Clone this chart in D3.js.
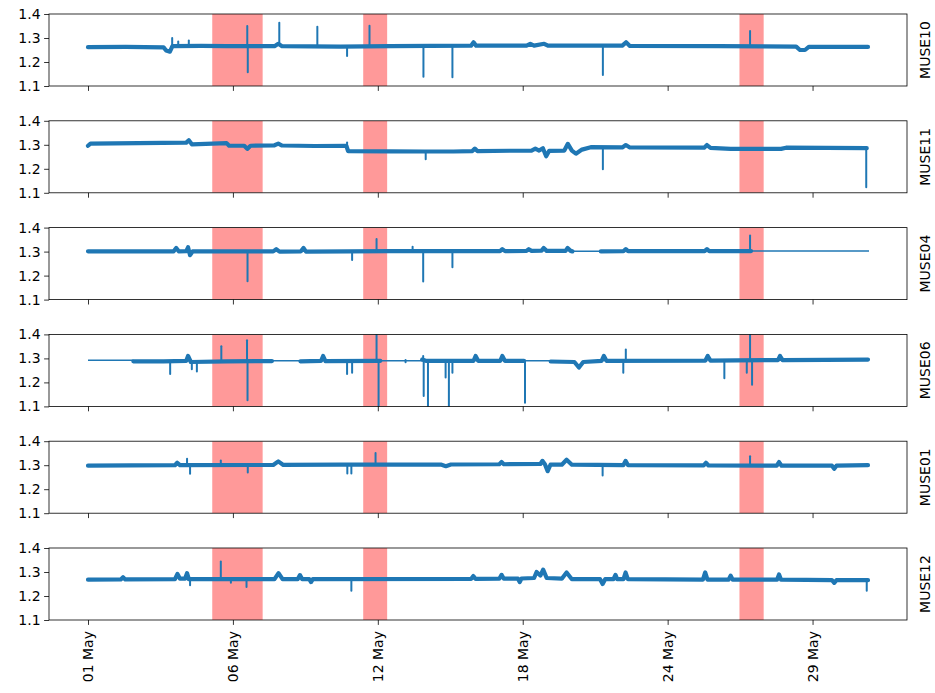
<!DOCTYPE html>
<html>
<head>
<meta charset="utf-8">
<script src="https://cdn.jsdelivr.net/npm/d3@7/dist/d3.min.js"></script>
<style>
  body { margin: 0; background: #fff; }
  svg { font-family: "DejaVu Sans", sans-serif; }
</style>
</head>
<body>
<svg id="chart"></svg>
<script>
// days counted from 01 May 00:00
const stations = ['MUSE10', 'MUSE11', 'MUSE04', 'MUSE06', 'MUSE01', 'MUSE12'];
const tickDays = [0, 5.75, 11.5, 17.25, 23, 28.75];
const tickLabels = ['01 May', '06 May', '12 May', '18 May', '24 May', '29 May'];
const yTicks = [1.1, 1.2, 1.3, 1.4];
const eventSpans = [[4.93, 6.93], [10.92, 11.87], [25.85, 26.81]];

const muse10Level = [[0, 1.262], [1.5, 1.263], [3.0, 1.261], [3.1, 1.248], [3.25, 1.243], [3.35, 1.266],
  [4.5, 1.267], [5.5, 1.266], [7.4, 1.266], [7.55, 1.276], [7.7, 1.266], [10.0, 1.264], [12.0, 1.266],
  [15.2, 1.268], [15.3, 1.282], [15.4, 1.268], [17.4, 1.268], [17.55, 1.276], [17.7, 1.268], [18.1, 1.276],
  [18.25, 1.268], [21.2, 1.268], [21.35, 1.282], [21.5, 1.267], [25, 1.266], [28.1, 1.264], [28.25, 1.25],
  [28.45, 1.25], [28.6, 1.263], [30.95, 1.263]];
const muse10Gaps = [];
const muse10Spikes = [[3.34, 1.30], [3.58, 1.285], [4.0, 1.29], [6.32, 1.35], [6.34, 1.157], [7.59, 1.364],
  [9.1, 1.347], [10.28, 1.225], [11.17, 1.351], [13.31, 1.139], [14.46, 1.136], [20.43, 1.146], [26.27, 1.329]];

const muse11Level = [[0, 1.296], [0.1, 1.305], [2, 1.307], [3.9, 1.309], [4.0, 1.319], [4.12, 1.302],
  [5.5, 1.307], [5.6, 1.296], [6.2, 1.296], [6.32, 1.283], [6.45, 1.296], [7.4, 1.298], [7.55, 1.305],
  [7.7, 1.297], [9, 1.295], [10.25, 1.296], [10.32, 1.274], [12, 1.273], [13.35, 1.272], [14.5, 1.272],
  [15.25, 1.274], [15.35, 1.284], [15.45, 1.274], [17.6, 1.276], [17.75, 1.284], [17.9, 1.276],
  [18.05, 1.286], [18.18, 1.252], [18.3, 1.275], [18.9, 1.276], [19.04, 1.304], [19.2, 1.276],
  [19.36, 1.263], [19.6, 1.28], [19.95, 1.29], [21.2, 1.289], [21.34, 1.299], [21.5, 1.289],
  [24.45, 1.288], [24.56, 1.299], [24.7, 1.287], [25.5, 1.283], [27.5, 1.283], [27.7, 1.288], [30.9, 1.286]];
const muse11Gaps = [];
const muse11Spikes = [[10.28, 1.31], [13.4, 1.24], [20.43, 1.198], [30.88, 1.123]];

const muse04Level = [[0, 1.301], [3.4, 1.301], [3.5, 1.315], [3.6, 1.301], [3.9, 1.302], [3.97, 1.318],
  [4.05, 1.285], [4.15, 1.301], [7.35, 1.301], [7.47, 1.31], [7.6, 1.300], [8.45, 1.301], [8.55, 1.315],
  [8.65, 1.300], [12, 1.302], [16.35, 1.302], [16.44, 1.31], [16.55, 1.302], [17.4, 1.303], [17.49, 1.31],
  [17.6, 1.303], [18.0, 1.304], [18.08, 1.315], [18.2, 1.303], [18.95, 1.303], [19.03, 1.315],
  [19.15, 1.303], [19.22, 1.301], [19.22, null], [20.35, 1.301], [21.25, 1.302], [21.34, 1.31],
  [21.43, 1.302], [24.47, 1.302], [24.56, 1.31], [24.65, 1.302], [26.31, 1.302]];
const muse04Gaps = [[19.22, 20.35, 1.301], [26.31, 30.99, 1.302]];
const muse04Spikes = [[6.33, 1.176], [10.48, 1.265], [11.45, 1.353], [12.88, 1.32], [13.3, 1.175],
  [14.46, 1.235], [26.27, 1.367]];

const muse06Level = [[1.8, 1.288], [3.0, 1.288], [3.9, 1.29], [3.97, 1.31], [4.08, 1.285], [5.5, 1.288],
  [7.3, 1.289], [7.3, null], [8.43, 1.288], [9.25, 1.29], [9.33, 1.31], [9.42, 1.289], [11.6, 1.29],
  [11.6, null], [13.26, 1.295], [13.4, 1.29], [15.3, 1.29], [15.38, 1.31], [15.48, 1.29], [16.36, 1.29],
  [16.44, 1.31], [16.54, 1.29], [17.3, 1.29], [17.3, null], [18.36, 1.287], [19.3, 1.285], [19.48, 1.262],
  [19.65, 1.285], [20.38, 1.29], [20.47, 1.31], [20.57, 1.29], [24.5, 1.291], [24.59, 1.31], [24.7, 1.291],
  [27.38, 1.293], [27.46, 1.31], [27.56, 1.293], [30.95, 1.295]];
const muse06Gaps = [[0, 1.8, 1.292], [7.3, 8.43, 1.29], [11.6, 13.26, 1.29], [17.3, 18.36, 1.29]];
const muse06Spikes = [[3.26, 1.235], [4.12, 1.255], [4.32, 1.245], [5.29, 1.351], [6.31, 1.376],
  [6.33, 1.126], [10.28, 1.235], [10.48, 1.24], [11.45, 1.40], [11.53, 1.10], [12.6, 1.284], [13.3, 1.31],
  [13.32, 1.143], [13.49, 1.10], [14.19, 1.22], [14.32, 1.10], [14.46, 1.24], [17.34, 1.115], [21.24, 1.24],
  [21.34, 1.337], [25.25, 1.217], [26.14, 1.24], [26.27, 1.40], [26.35, 1.19]];

const muse01Level = [[0, 1.298], [3.45, 1.30], [3.54, 1.31], [3.65, 1.30], [7.35, 1.301], [7.55, 1.316],
  [7.75, 1.301], [10, 1.302], [14, 1.303], [14.2, 1.296], [14.4, 1.303], [16.32, 1.304], [16.41, 1.313],
  [16.5, 1.304], [17.95, 1.305], [18.03, 1.318], [18.13, 1.304], [18.24, 1.275], [18.35, 1.302],
  [18.8, 1.302], [18.99, 1.323], [19.2, 1.302], [21.24, 1.30], [21.33, 1.318], [21.43, 1.30],
  [24.43, 1.299], [24.52, 1.31], [24.62, 1.299], [27.33, 1.298], [27.42, 1.313], [27.52, 1.298],
  [29.52, 1.298], [29.61, 1.285], [29.7, 1.298], [30.95, 1.30]];
const muse01Gaps = [];
const muse01Spikes = [[3.93, 1.327], [4.05, 1.264], [5.27, 1.32], [6.34, 1.27], [10.29, 1.265],
  [10.45, 1.265], [11.41, 1.351], [20.42, 1.257], [26.27, 1.337]];

const muse12Level = [[0, 1.268], [1.3, 1.269], [1.39, 1.278], [1.48, 1.269], [3.45, 1.27], [3.55, 1.292],
  [3.65, 1.272], [3.85, 1.272], [3.93, 1.295], [4.0, 1.27], [7.4, 1.27], [7.56, 1.295], [7.72, 1.27],
  [8.32, 1.27], [8.41, 1.287], [8.5, 1.27], [8.78, 1.27], [8.85, 1.258], [8.92, 1.27], [15.2, 1.271],
  [15.29, 1.283], [15.38, 1.271], [16.32, 1.272], [16.41, 1.288], [16.5, 1.272], [17.06, 1.272],
  [17.13, 1.258], [17.2, 1.273], [17.7, 1.275], [17.8, 1.30], [17.95, 1.285], [18.06, 1.31], [18.2, 1.275],
  [18.8, 1.272], [18.99, 1.298], [19.2, 1.27], [20.32, 1.27], [20.42, 1.25], [20.52, 1.27], [20.85, 1.27],
  [20.93, 1.288], [21.0, 1.27], [21.25, 1.27], [21.33, 1.298], [21.42, 1.27], [24.4, 1.268],
  [24.49, 1.298], [24.58, 1.268], [25.42, 1.268], [25.5, 1.285], [25.58, 1.268], [27.34, 1.268],
  [27.42, 1.29], [27.5, 1.268], [29.52, 1.266], [29.61, 1.255], [29.7, 1.266], [30.95, 1.266]];
const muse12Gaps = [];
const muse12Spikes = [[4.05, 1.245], [5.27, 1.344], [5.67, 1.255], [6.29, 1.237], [10.45, 1.222],
  [30.9, 1.222]];

const levels = [muse10Level, muse11Level, muse04Level, muse06Level, muse01Level, muse12Level];
const gaps = [muse10Gaps, muse11Gaps, muse04Gaps, muse06Gaps, muse01Gaps, muse12Gaps];
const spikes = [muse10Spikes, muse11Spikes, muse04Spikes, muse06Spikes, muse01Spikes, muse12Spikes];

const W = 935, H = 693;
const left = 49, right = 907;
const top0 = 14, step = 106.8, ph = 72;
const blue = '#1f77b4';

const start = Date.UTC(2021, 4, 1);
const toDate = d => new Date(start + d * 864e5);

const svg = d3.select('#chart')
  .attr('width', W)
  .attr('height', H);

// matplotlib style 5% margins around the data
const xmax = 30.95;
const x = d3.scaleUtc()
  .domain([toDate(-0.05 * xmax), toDate(1.05 * xmax)])
  .range([left, right]);

const y = d3.scaleLinear()
  .domain([1.1, 1.4])
  .range([ph, 0]);

svg.append('defs').append('clipPath')
  .attr('id', 'clip')
  .append('rect')
  .attr('x', left).attr('y', 0)
  .attr('width', right - left).attr('height', ph);

const line = d3.line()
  .defined(d => d[1] !== null)
  .x(d => x(toDate(d[0])))
  .y(d => y(d[1]));

stations.forEach((name, i) => {
  const g = svg.append('g')
    .attr('transform', `translate(0,${top0 + i * step})`);

  const plot = g.append('g').attr('clip-path', 'url(#clip)');

  // event spans
  plot.selectAll('rect.span')
    .data(eventSpans)
    .join('rect')
    .attr('class', 'span')
    .attr('x', d => x(toDate(d[0])))
    .attr('width', d => x(toDate(d[1])) - x(toDate(d[0])))
    .attr('y', 0)
    .attr('height', ph)
    .attr('fill', 'red')
    .attr('fill-opacity', 0.4);

  // gaps with no data: straight thin line
  plot.selectAll('line.gap')
    .data(gaps[i])
    .join('line')
    .attr('class', 'gap')
    .attr('x1', d => x(toDate(d[0])))
    .attr('x2', d => x(toDate(d[1])))
    .attr('y1', d => y(d[2]))
    .attr('y2', d => y(d[2]))
    .attr('stroke', blue)
    .attr('stroke-width', 1.5);

  // noisy band
  plot.append('path')
    .datum(levels[i])
    .attr('fill', 'none')
    .attr('stroke', blue)
    .attr('stroke-width', 4.2)
    .attr('stroke-linejoin', 'round')
    .attr('stroke-linecap', 'round')
    .attr('d', line);

  // spikes from the band
  const pts = levels[i].filter(d => d[1] !== null);
  const bis = d3.bisector(d => d[0]).left;
  const baseAt = day => {
    const j = Math.max(1, Math.min(pts.length - 1, bis(pts, day)));
    const a = pts[j - 1], b = pts[j];
    const t = b[0] === a[0] ? 0 : (day - a[0]) / (b[0] - a[0]);
    return a[1] + Math.max(0, Math.min(1, t)) * (b[1] - a[1]);
  };
  plot.selectAll('line.spike')
    .data(spikes[i])
    .join('line')
    .attr('class', 'spike')
    .attr('x1', d => x(toDate(d[0])))
    .attr('x2', d => x(toDate(d[0])))
    .attr('y1', d => y(baseAt(d[0])))
    .attr('y2', d => y(d[1]))
    .attr('stroke', blue)
    .attr('stroke-width', 2)
    .attr('stroke-linecap', 'round');

  // y axis
  const ay = g.append('g')
    .attr('transform', `translate(${left},0)`)
    .call(d3.axisLeft(y).tickValues(yTicks).tickFormat(d3.format('.1f')).tickSize(4.9).tickPadding(3.5).tickSizeOuter(0));
  ay.select('.domain').remove();
  ay.selectAll('line').attr('stroke', '#000').attr('stroke-width', 0.8);
  ay.selectAll('text').attr('font-size', 14).attr('fill', '#000')
    .attr('font-family', '"DejaVu Sans", sans-serif');

  // x axis, labels only on the bottom panel
  const last = i === stations.length - 1;
  const ax = g.append('g')
    .attr('transform', `translate(0,${ph})`)
    .call(d3.axisBottom(x)
      .tickValues(tickDays.map(toDate))
      .tickFormat((d, k) => last ? tickLabels[k] : '')
      .tickSize(4.9)
      .tickSizeOuter(0));
  ax.select('.domain').remove();
  ax.selectAll('line').attr('stroke', '#000').attr('stroke-width', 0.8);
  ax.selectAll('text')
    .attr('font-size', 14)
    .attr('fill', '#000')
    .attr('font-family', '"DejaVu Sans", sans-serif')
    .attr('transform', 'rotate(-90)')
    .attr('text-anchor', 'end')
    .attr('dy', '0.35em')
    .attr('x', -11)
    .attr('y', 0);

  // frame
  g.append('rect')
    .attr('x', left).attr('y', 0)
    .attr('width', right - left).attr('height', ph)
    .attr('fill', 'none')
    .attr('stroke', '#000')
    .attr('stroke-width', 0.8);

  // station label on the right
  g.append('text')
    .attr('transform', `translate(925,${ph / 2}) rotate(-90)`)
    .attr('text-anchor', 'middle')
    .attr('dy', '0.35em')
    .attr('font-size', 14)
    .attr('fill', '#000')
    .text(name);
});
</script>
</body>
</html>
